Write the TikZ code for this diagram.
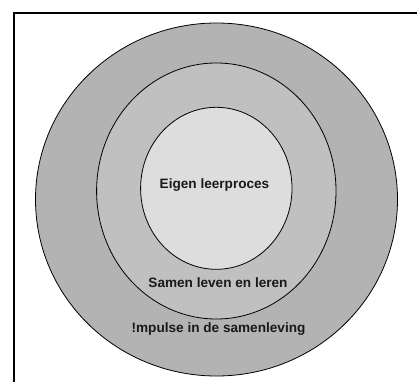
\documentclass[tikz,border=0pt]{standalone}
\usepackage{fontspec}
\setmainfont{Liberation Sans}
\begin{document}
\begin{tikzpicture}[x=1pt,y=1pt,
  ring/.style={draw=black,line width=0.8pt},
  lbl/.style={font=\bfseries\fontsize{13.6}{16}\selectfont,inner sep=0pt,text=black!90}]
\useasboundingbox (0,0) rectangle (417,381);
\fill[white] (0,0) rectangle (417,381);
% frame (only left and top edges visible)
\coordinate (fbl) at (14,-2);
\coordinate (ftl) at (14,368);
\coordinate (ftr) at (419,368);
\draw[line width=1.6pt] (fbl) -- (ftl) -- (ftr);
% rings
\draw[ring,fill={rgb,255:red,179;green,179;blue,179}] (216.5,181.5) ellipse [x radius=181, y radius=176.5];
\draw[ring,fill={rgb,255:red,192;green,192;blue,192}] (216.3,190) ellipse [x radius=119.7, y radius=128];
\draw[ring,fill={rgb,255:red,221;green,221;blue,221}] (216.3,192.7) ellipse [x radius=75.7, y radius=81];
% labels
\node[lbl] (inner) at (214.5,196) {Eigen leerproces};
\node[lbl] (middle) at (218,98.5) {Samen leven en leren};
\node[lbl] (outer) at (218.5,52) {!mpulse in de samenleving};
\end{tikzpicture}
\end{document}
